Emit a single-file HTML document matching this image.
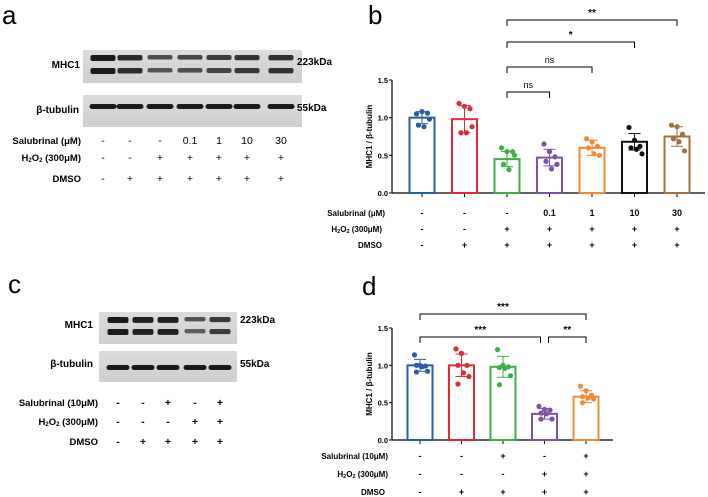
<!DOCTYPE html>
<html><head><meta charset="utf-8"><style>
body{margin:0;background:#fff}
svg{display:block;font-family:"Liberation Sans",sans-serif}
.lbl{font-weight:bold;font-size:10px}
</style></head><body>
<svg id="fig" width="708" height="497" viewBox="0 0 708 497">
<defs>
<linearGradient id="bg" x1="0" x2="0" y1="0" y2="1"><stop offset="0" stop-color="#dcdcdc"/><stop offset="1" stop-color="#cfcfcf"/></linearGradient>
</defs>
<text x="2" y="24" font-size="26">a</text>
<rect x="83" y="50" width="219" height="33" fill="url(#bg)"/>
<rect x="83" y="95" width="219" height="32" fill="url(#bg)"/>
<text class="lbl" x="80" y="68" text-anchor="end">MHC1</text>
<text class="lbl" x="79" y="113" text-anchor="end">β-tubulin</text>
<text class="lbl" x="297" y="65">223kDa</text>
<text class="lbl" x="297" y="111">55kDa</text>
<g id="bandsA"></g>
<g id="rowsA" font-size="9"></g>
<text x="8" y="293" font-size="26">c</text>
<rect x="99" y="312" width="138" height="32" fill="url(#bg)"/>
<rect x="99" y="351" width="138" height="31" fill="url(#bg)"/>
<text class="lbl" x="93" y="328" text-anchor="end">MHC1</text>
<text class="lbl" x="93" y="367" text-anchor="end">β-tubulin</text>
<text class="lbl" x="240" y="323">223kDa</text>
<text class="lbl" x="240" y="367">55kDa</text>
<g id="bandsC"></g>
<g id="rowsC" font-size="9"></g>
<text x="368" y="24" font-size="26">b</text>
<text x="362" y="295" font-size="26">d</text>
<g id="chartB"></g>
<g id="chartD"></g>
</svg>
<script>
const bCats=["ctrl","dmso","h2o2","s0.1","s1","s10","s30"];
const bMeans=[1.0,0.98,0.45,0.47,0.60,0.68,0.75];
const bSD=[0.08,0.18,0.10,0.11,0.10,0.11,0.13];
const bDots=[[1.05,1.08,1.06,0.90,0.88,0.98],[1.19,1.15,1.12,0.80,0.80,0.88],[0.60,0.55,0.55,0.38,0.31,0.50],[0.65,0.55,0.48,0.42,0.32,0.38],[0.72,0.68,0.62,0.60,0.52,0.50],[0.87,0.70,0.62,0.60,0.58,0.52],[0.90,0.88,0.78,0.72,0.68,0.56]];
const bColors=["#2a5ca8","#e02a35","#3fae49","#7b52a5","#f08a36","#111111","#9a7440"];
const bRow1=["-","-","-","0.1","1","10","30"];
const bRow2=["-","-","+","+","+","+","+"];
const bRow3=["-","+","+","+","+","+","+"];
const bSig=[["**",2,6],["*",2,5],["ns",2,4],["ns",2,3]];
const dMeans=[1.0,1.0,0.98,0.35,0.58];
const dSD=[0.08,0.15,0.14,0.07,0.08];
const dDots=[[1.14,1.00,0.99,1.00,0.98,0.92,0.91],[1.22,1.16,1.00,1.00,0.90,0.85,0.75],[1.21,1.00,0.98,0.97,0.96,0.86,0.74],[0.45,0.41,0.40,0.36,0.35,0.28,0.28],[0.72,0.66,0.60,0.58,0.56,0.55,0.50]];
const dColors=["#2a5ca8","#e02a35","#3fae49","#7b52a5","#f08a36"];
const dRow1=["-","-","+","-","+"];
const dRow2=["-","-","-","+","+"];
const dRow3=["-","+","+","+","+"];
const yTicks=[0,0.5,1.0,1.5];
const tickLabels=["0.0","0.5","1.0","1.5"];
const aLanes=[103,130,160,190,219,247,281];
const aMHC=[1.0,0.85,0.5,0.55,0.65,0.75,0.8];
const aRow1=["-","-","-","0.1","1","10","30"];
const aRow2=["-","-","+","+","+","+","+"];
const aRow3=["-","+","+","+","+","+","+"];
const cLanes=[118,143,168,195,220];
const cMHC=[1.0,0.95,0.95,0.45,0.7];
const cRow1=["-","-","+","-","+"];
const cRow2=["-","-","-","+","+"];
const cRow3=["-","+","+","+","+"];

const NS="http://www.w3.org/2000/svg";
function mk(parent,tag,attrs){const e=document.createElementNS(NS,tag);for(const k in attrs)e.setAttribute(k,attrs[k]);parent.appendChild(e);return e;}
function txt(parent,x,y,s,size,anchor,bold){const t=mk(parent,"text",{x:x,y:y,"font-size":size,"text-anchor":anchor||"middle","font-weight":bold?"bold":"normal"});t.textContent=s;return t;}

function blot(g,lanes,mhc,y1,y2,yt,w){
  lanes.forEach((x,i)=>{
    const a=mhc[i];
    const b1=mk(g,"rect",{x:x-w/2,y:y1,width:w,height:3+3*a,rx:2,fill:"#111","fill-opacity":0.45+0.5*a});
    
    
    const b2=mk(g,"rect",{x:x-w/2,y:y2,width:w,height:3+3*a,rx:2,fill:"#111","fill-opacity":0.35+0.6*a});
    
    
    const b3=mk(g,"rect",{x:x-w/2-1,y:yt,width:w+2,height:5,rx:2.5,fill:"#1a1a1a"});
    
    
  });
}
blot(document.getElementById("bandsA"),aLanes,aMHC,55,68,104,25);
blot(document.getElementById("bandsC"),cLanes,cMHC,317,329,365,21);

function rows(g,lanes,rowsArr,ys,labels,labx,bold){
  labels.forEach((l,r)=>{
    const t=txt(g,labx,ys[r],"",9.5,"end",true);
    t.innerHTML=l;
    
    
    lanes.forEach((x,i)=>{
      const v=txt(g,x,ys[r],rowsArr[r][i],10.5,"middle",bold);
      
      
    });
  });
}
rows(document.getElementById("rowsA"),aLanes,[aRow1,aRow2,aRow3],[144,161,182],["Salubrinal (μM)","H<tspan font-size='6' dy='1'>2</tspan><tspan dy='-1'>O</tspan><tspan font-size='6' dy='1'>2</tspan><tspan dy='-1'> (300μM)</tspan>","DMSO"],81,false);
rows(document.getElementById("rowsC"),cLanes,[cRow1,cRow2,cRow3],[406,425,445],["Salubrinal (10μM)","H<tspan font-size='6' dy='1'>2</tspan><tspan dy='-1'>O</tspan><tspan font-size='6' dy='1'>2</tspan><tspan dy='-1'> (300μM)</tspan>","DMSO"],98,true);

function chart(g,cfg){
  const y=v=>cfg.y0-(cfg.y0-cfg.y15)*v/1.5;
  const xc=i=>cfg.x0+cfg.step*i;
  let e=mk(g,"line",{x1:cfg.ax,y1:y(1.5),x2:cfg.ax,y2:y(0),stroke:"#000","stroke-width":1.2});
  
  e=mk(g,"line",{x1:cfg.ax,y1:y(0),x2:cfg.xend,y2:y(0),stroke:"#000","stroke-width":1.2});
  
  yTicks.forEach((t,i)=>{
    mk(g,"line",{x1:cfg.ax-3,y1:y(t),x2:cfg.ax,y2:y(t),stroke:"#000"});
    const l=txt(g,cfg.ax-4,y(t)+3,tickLabels[i],7.5,"end",true);
    
  });
  const yt=txt(g,0,0,"MHC1 / β-tubulin",8,"middle",true);
  yt.setAttribute("transform",`translate(${cfg.ax-20},${(y(0)+y(1.5))/2}) rotate(-90)`);
  
  cfg.means.forEach((m,i)=>{
    const x=xc(i),c=cfg.colors[i];
    mk(g,"line",{x1:x,y1:y(0),x2:x,y2:y(0)+4,stroke:"#000"});
    const b=mk(g,"rect",{x:x-12.5,y:y(m),width:25,height:y(0)-y(m),fill:"#fff",stroke:c,"stroke-width":2});
    
    const s=cfg.sd[i];
    mk(g,"line",{x1:x,y1:y(m+s),x2:x,y2:y(m-s),stroke:c,"stroke-width":1});
    mk(g,"line",{x1:x-6,y1:y(m+s),x2:x+6,y2:y(m+s),stroke:c,"stroke-width":1});
    mk(g,"line",{x1:x-6,y1:y(m-s),x2:x+6,y2:y(m-s),stroke:c,"stroke-width":1});
    cfg.dots[i].forEach((v,j)=>{
      const off=(j%3-1)*5.5+(j>=3?2:0);
      const d=mk(g,"circle",{cx:x+off,cy:y(v),r:2.6,fill:c});
      
    });
    cfg.rows.forEach((r,k)=>{
      const t=txt(g,x,cfg.rowY[k],r[i],9,"middle",true);
      
    });
  });
  cfg.rowLabels.forEach((l,k)=>{
    const t=txt(g,cfg.labX[k],cfg.rowY[k],"",8,"end",true);
    t.innerHTML=l;
    
  });
  cfg.sig.forEach(s=>{
    const x1=xc(s[1])+(s[4]||0),x2=xc(s[2])+(s[5]||0),by=s[3];
    const p=mk(g,"path",{d:`M${x1},${by+6}V${by}H${x2}V${by+6}`,fill:"none",stroke:"#000","stroke-width":1});
    
    const t=txt(g,(x1+x2)/2,by-4,s[0],s[0]=="ns"?9:10,"middle",s[0]!="ns");
    
  });
}
const h2o="H<tspan font-size='5.5' dy='1'>2</tspan><tspan dy='-1'>O</tspan><tspan font-size='5.5' dy='1'>2</tspan><tspan dy='-1'> (300μM)</tspan>";
chart(document.getElementById("chartB"),{y0:193,y15:80,ax:392,xend:705,x0:422,step:42.5,means:bMeans,sd:bSD,dots:bDots,colors:bColors,
  rows:[bRow1,bRow2,bRow3],rowY:[216,232,248],rowLabels:["Salubrinal (μM)",h2o,"DMSO"],labX:[385,382,382],
  sig:[[bSig[0][0],2,6,20],[bSig[1][0],2,5,42],[bSig[2][0],2,4,67],[bSig[3][0],2,3,92]]});
chart(document.getElementById("chartD"),{y0:440,y15:328,ax:392,xend:613,x0:420,step:41.5,means:dMeans,sd:dSD,dots:dDots,colors:dColors,
  rows:[dRow1,dRow2,dRow3],rowY:[459,477,495],rowLabels:["Salubrinal (10μM)",h2o,"DMSO"],labX:[388,388,385],
  sig:[["***",0,4,314],["***",0,3,337,0,-4],["**",3,4,337,4,0]]});
</script>
</body></html>
